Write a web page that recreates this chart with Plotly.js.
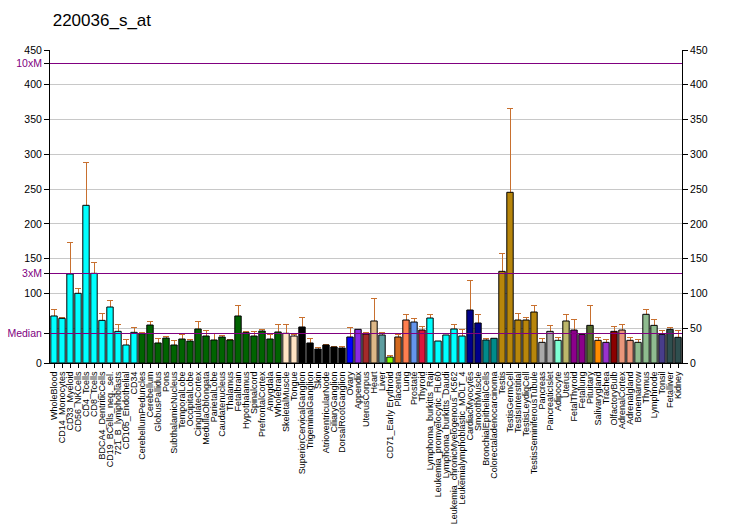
<!DOCTYPE html>
<html>
<head>
<meta charset="utf-8">
<script src="https://cdn.plot.ly/plotly-3.0.1.min.js"></script>
<style>html,body{margin:0;padding:0;background:#fff}#chart{width:732px;height:530px}
.shapelayer path,.errorbar path{shape-rendering:crispEdges}</style>
</head>
<body>
<div id="chart"></div>
<script>
var categories = ["WholeBlood","CD14_Monocytes","CD33_Myeloid","CD56_NKCells","CD4_Tcells","CD8_Tcells","BDCA4_DentriticCells","CD19_BCells_neg._sel.","721_B_lymphoblasts","CD105_Endothelial","CD34","CerebellumPeduncles","Cerebellum","GlobusPallidus","Pons","SubthalamicNucleus","TemporalLobe","OccipitalLobe","CingulateCortex","MedullaOblongata","ParietalLobe","Caudatenucleus","Thalamus","Fetalbrain","Hypothalamus","Spinalcord","PrefrontalCortex","Amygdala","Wholebrain","SkeletalMuscle","Tongue","SuperiorCervicalGanglion","TrigeminalGanglion","Skin","AtrioventricularNode","CiliaryGanglion","DorsalRootGanglion","Ovary","Appendix","UterusCorpus","Heart","Liver","CD71_Early Erythroid","Placenta","Lung","Prostate","Thyroid","Lymphoma_burkitts_Raji","Leukemia_promyelocytic_HL60","Lymphoma_burkitts_Daudi","Leukemia_chronicMyelogenous_K562","Leukemialymphoblastic_MOLT_4","CardiacMyocytes","SmoothMuscle","BronchialEpithelialCells","Colorectaladenocarcinoma","Testis","TestisGermCell","TestisInterstitial","TestisLeydigCell","TestisSeminiferousTubule","Pancreas","PancreaticIslet","Adipocyte","Uterus","FetalThyroid","Fetallung","Pituitary","Salivarygland","Trachea","OlfactoryBulb","AdrenalCortex","Adrenalgland","Bonemarrow","Thymus","Lymphnode","Tonsil","Fetalliver","Kidney"];

var values = [67.6,64.2,128.0,100.2,226.7,128.9,61.3,80.5,45.5,25.9,44.1,42.2,54.6,28.8,35.9,25.9,34.5,31.6,48.9,38.8,33.1,37.4,33.1,67.6,43.6,38.8,46.0,34.5,44.6,42.7,38.8,51.8,28.8,20.1,25.9,23.0,21.6,37.4,48.4,41.7,60.4,40.3,8.6,37.4,61.8,58.9,47.4,64.7,31.6,40.3,48.9,38.8,76.2,57.5,33.1,35.5,131.8,245.4,61.8,61.8,73.3,29.7,45.5,32.6,60.4,47.4,41.2,54.1,32.6,29.7,45.5,47.4,32.6,29.7,70.0,54.1,41.2,48.4,36.9];

var errors = [9.0,1.5,45.5,7.2,61.8,15.3,10.1,9.6,10.1,8.2,7.2,1.8,5.3,6.7,2.4,6.7,7.2,2.5,11.0,8.2,9.1,2.4,1.0,15.3,1.0,7.2,2.4,7.2,11.0,12.9,2.4,13.9,6.7,2.4,0.9,1.0,2.4,13.9,0,2.4,32.6,3.8,2.4,3.8,8.2,5.3,5.3,5.3,0,0,6.7,9.6,42.7,12.5,2.4,0,25.9,120.6,9.6,3.9,9.6,5.8,8.6,4.3,9.6,15.4,0,28.8,4.3,4.4,7.2,8.2,4.3,4.4,7.2,8.7,5.8,2.9,10.1];

var colors = ["#00FFFF","#00FFFF","#00FFFF","#00FFFF","#00FFFF","#00FFFF","#00FFFF","#00FFFF","#00FFFF","#00FFFF","#00FFFF",
"#006400","#006400","#006400","#006400","#006400","#006400","#006400","#006400","#006400","#006400","#006400","#006400","#006400","#006400","#006400","#006400","#006400","#006400",
"#FFE4C4","#FFE4C4",
"#000000","#000000","#000000","#000000","#000000","#000000",
"#0000FF","#8A2BE2","#A52A2A","#DEB887","#5F9EA0","#7FFF00","#D2691E","#FF7F50","#6495ED","#DC143C",
"#00FFFF","#00FFFF","#00FFFF","#00FFFF","#00FFFF",
"#00008B","#00008B","#008B8B","#008B8B",
"#B8860B","#B8860B","#B8860B","#B8860B","#B8860B",
"#A9A9A9","#A9A9A9","#7FFFD4","#BDB76B","#8B008B","#8B008B","#556B2F","#FF8C00","#9932CC","#8B0000","#E9967A","#E9967A","#8FBC8F","#8FBC8F","#8FBC8F","#483D8B","#2F4F4F","#2F4F4F"];

var medianValue = 43.1;
var threeXM = 129.4;
var tenXM = 431;

var leftTickVals = [0, medianValue, 100, threeXM, 150, 200, 250, 300, 350, 400, tenXM, 450];
var purple = "#800080";
function p(t){ return '<span style="color:' + purple + '">' + t + '</span>'; }
var leftTickText = ["0", p("Median"), "100", p("3xM"), "150", "200", "250", "300", "350", "400", p("10xM"), "450"];

var errPlus = errors.map(function(e){ return e > 0 ? e : NaN; });
var errMinus = errors.map(function(e, i){ return e > 0 ? values[i] / 2 : NaN; });

var font = "Liberation Sans, Arial, sans-serif";

var traces = [
  {
    type: "bar", x: categories, y: values,
    marker: {color: "rgba(0,0,0,0)", line: {width: 0}},
    error_y: {type: "data", symmetric: false, array: errPlus, arrayminus: errMinus,
              color: "#C8702F", thickness: 1, width: 3},
    hoverinfo: "skip", showlegend: false
  },
  {
    type: "bar", x: categories, y: values,
    marker: {color: colors, line: {color: "#000000", width: 1}},
    showlegend: false
  },
  {
    type: "scatter", x: [categories[0]], y: [null], yaxis: "y2",
    mode: "markers", showlegend: false, hoverinfo: "skip"
  }
];

var shapes = [medianValue, threeXM, tenXM].map(function(v){
  return {type: "line", xref: "paper", x0: 0, x1: 1, yref: "y", y0: v, y1: v,
          line: {color: purple, width: 1}, layer: "above"};
});

var layout = {
  width: 732, height: 530, autosize: false,
  margin: {l: 50, r: 50, t: 50, b: 167, pad: 0},
  paper_bgcolor: "#FFFFFF", plot_bgcolor: "#FFFFFF",
  font: {family: font, color: "#000000", size: 10.5},
  title: {text: "220036_s_at", font: {family: font, size: 17, color: "#000000"},
          xref: "container", x: 0.072, xanchor: "left", yref: "container", y: 0.962, yanchor: "middle"},
  barmode: "overlay", bargap: 0.2,
  showlegend: false,
  xaxis: {type: "category", range: [-0.5, categories.length - 0.5], tickangle: -90,
          tickmode: "array", tickvals: categories, ticktext: categories,
          tickfont: {size: 9, family: font}, ticks: "outside", ticklen: 4, tickcolor: "#000",
          showline: true, linecolor: "#000", linewidth: 1, showgrid: false, zeroline: false,
          automargin: false, fixedrange: true},
  yaxis: {range: [0, 450], tickmode: "array", tickvals: leftTickVals, ticktext: leftTickText,
          ticks: "outside", ticklen: 5, tickcolor: "#000", showline: true, linecolor: "#000",
          linewidth: 1, showgrid: false, zeroline: false, automargin: false, fixedrange: true,
          tickfont: {size: 10.5, family: font}},
  yaxis2: {range: [0, 450], overlaying: "y", side: "right", tickmode: "linear", tick0: 0, dtick: 50,
           ticks: "outside", ticklen: 5, tickcolor: "#000", showline: true, linecolor: "#000",
           linewidth: 1, showgrid: true, gridcolor: "#C8C8C8", gridwidth: 1, zeroline: false,
           automargin: false, fixedrange: true, tickfont: {size: 10.5, family: font}},
  shapes: shapes
};

Plotly.newPlot("chart", traces, layout, {staticPlot: true, displayModeBar: false});
</script>
</body>
</html>
